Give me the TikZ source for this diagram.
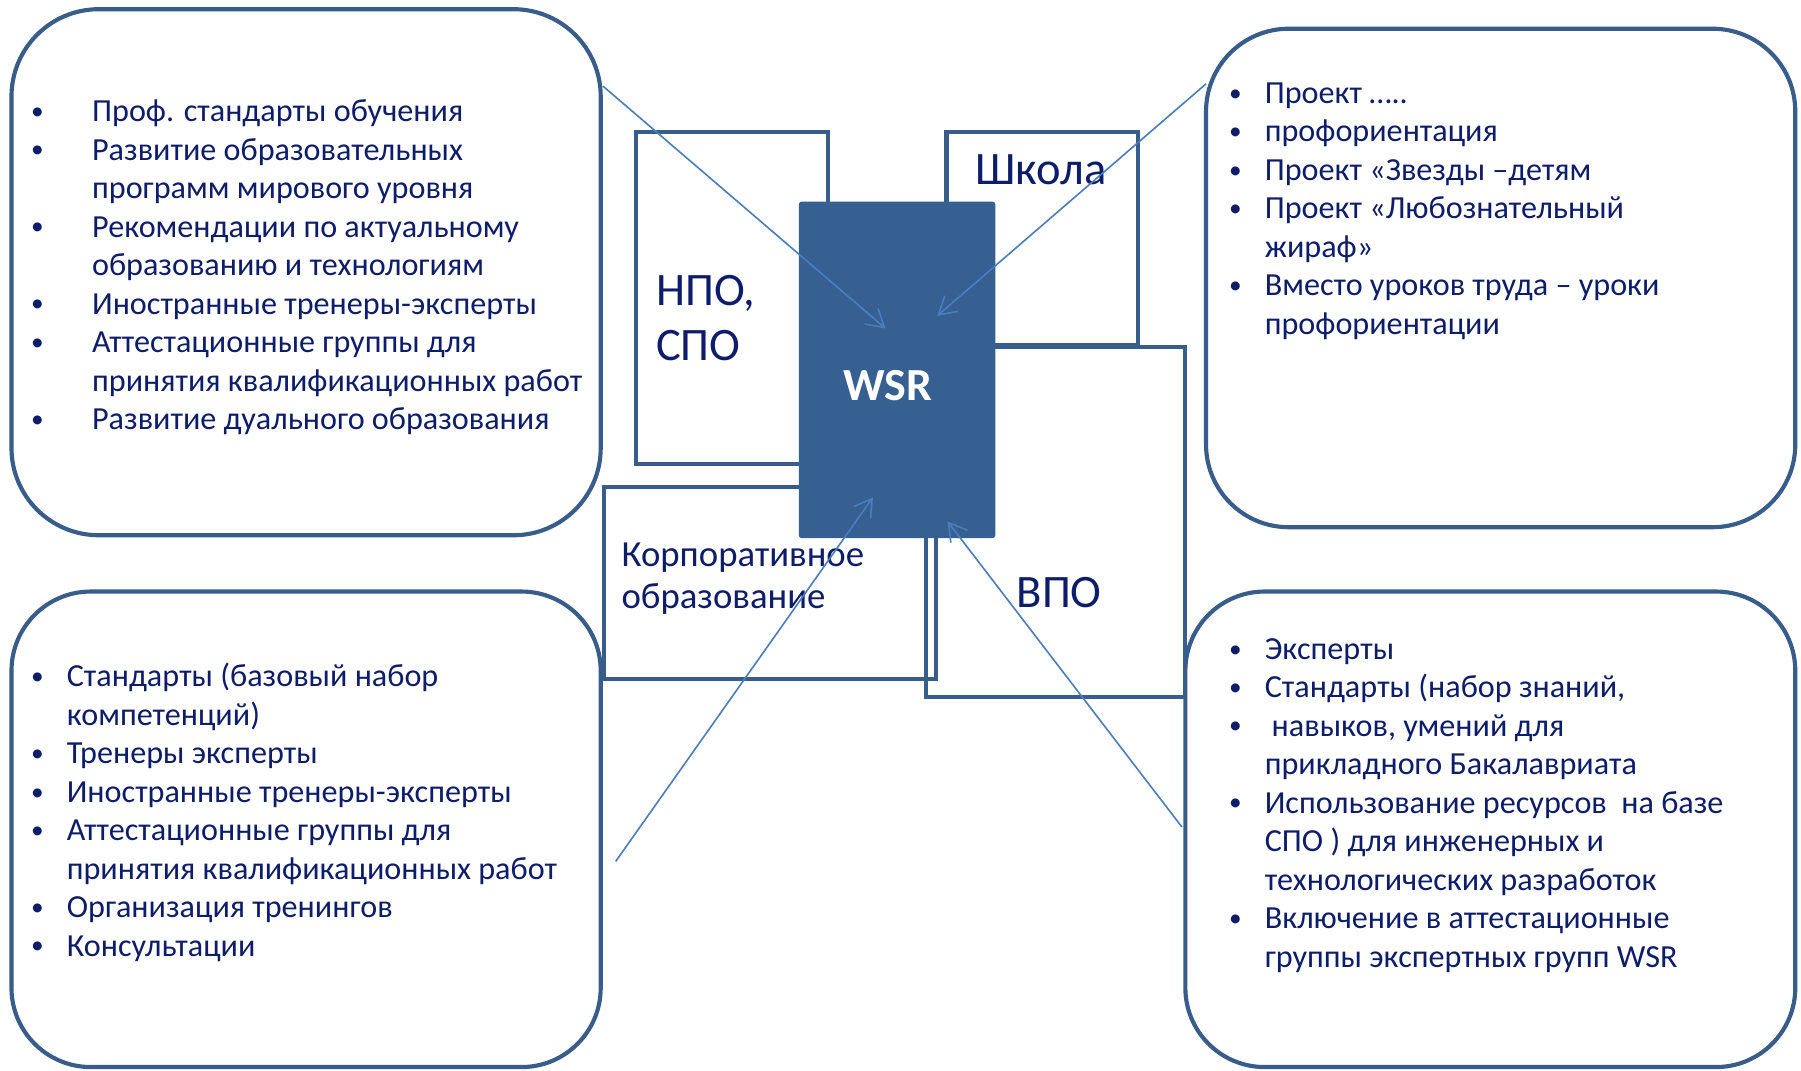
\documentclass[tikz,border=0pt]{standalone}
\usepackage{fontspec}
\setmainfont{Carlito}
\usetikzlibrary{arrows.meta}
\definecolor{outl}{HTML}{385D8A}
\definecolor{wsrfill}{HTML}{376092}
\definecolor{arr}{HTML}{4A7EBB}
\definecolor{txt}{HTML}{0E1D6A}
\newcommand\blist[5]{%
  \foreach \b/\t [count=\i from 0] in {#4} {%
    \ifnum\b=1 \node[bulmark] (#5b\i) at (#1, #3+\i*33.5-2) {•};\fi
    \node[itemtxt] (#5t\i) at (#2, #3+\i*33.5) {\t};
  }}
\begin{document}
\begin{tikzpicture}[x=1pt,y=-1pt,
  bigbox/.style={shape=rectangle, draw=outl, line width=3.6pt, rounded corners=#1, inner sep=0pt, outer sep=0pt},
  plainbox/.style={shape=rectangle, draw=outl, line width=3.6pt, inner sep=0pt, outer sep=0pt},
  wsrbox/.style={shape=rectangle, fill=wsrfill, draw=wsrfill, line width=1pt, rounded corners=2pt, inner sep=0pt, outer sep=0pt},
  bulmark/.style={anchor=base west, inner sep=0pt, text=txt, font=\fontsize{22}{26}\selectfont},
  itemtxt/.style={anchor=base west, inner sep=0pt, text=txt, font=\fontsize{28}{33.5}\selectfont},
  biglabel/.style={anchor=base west, inner sep=0pt, text=txt, font=\fontsize{40.5}{48}\selectfont},
  corplabel/.style={anchor=base west, inner sep=0pt, text=txt, font=\fontsize{32}{37}\selectfont},
  arrowline/.style={draw=arr, line width=1.4pt, -{Straight Barb[length=15pt,width=18pt,line width=1.4pt]}}
]
\useasboundingbox[fill=white] (0,0) rectangle (1568,932);

% big rounded boxes
\node[bigbox=76pt, minimum width=513pt, minimum height=458pt] (tl) at (266.5,237) {};
\node[bigbox=72pt, minimum width=513pt, minimum height=434pt] (tr) at (1306.5,242) {};
\node[bigbox=69pt, minimum width=513pt, minimum height=414pt] (bl) at (266.5,722) {};
\node[bigbox=69pt, minimum width=531pt, minimum height=414pt] (br) at (1297.5,722) {};

% central rectangles
\node[plainbox, minimum width=167pt, minimum height=289pt] (npo) at (637.5,259.5) {};
\node[plainbox, minimum width=167pt, minimum height=185pt] (shk) at (907.5,207.5) {};
\node[plainbox, minimum width=226pt, minimum height=305pt] (vpo) at (919,454.5) {};
\node[plainbox, minimum width=289pt, minimum height=167pt] (corp) at (670.5,507.5) {};
\node[wsrbox, minimum width=170pt, minimum height=292pt] (wsr) at (781,322) {};

% central labels
\node[biglabel] (npol1) at (571,266) {НПО,};
\node[biglabel] (npol2) at (571,314) {СПО};
\node[biglabel] (shkl) at (849,161) {Школа};
\node[biglabel] (vpol) at (885,529) {ВПО};
\node[corplabel] (corpl1) at (541,493) {Корпоративное};
\node[corplabel] (corpl2) at (541,530) {образование};
\node[inner sep=0pt, text=white, font=\bfseries\fontsize{40}{48}\selectfont] (wsrl) at (773,336) {WSR};

% lists
\blist{27}{80}{106}{1/{Проф. стандарты обучения}, 1/{Развитие образовательных}, 0/{программ мирового уровня}, 1/{Рекомендации по актуальному}, 0/{образованию и технологиям}, 1/{Иностранные тренеры-эксперты}, 1/{Аттестационные группы для}, 0/{принятия квалификационных работ}, 1/{Развитие дуального образования}}{tl}
\blist{1070}{1101}{90}{1/{Проект …..}, 1/{профориентация}, 1/{Проект «Звезды –детям}, 1/{Проект «Любознательный}, 0/{жираф»}, 1/{Вместо уроков труда – уроки}, 0/{профориентации}}{tr}
\blist{27}{58}{598}{1/{Стандарты (базовый набор}, 0/{компетенций)}, 1/{Тренеры эксперты}, 1/{Иностранные тренеры-эксперты}, 1/{Аттестационные группы для}, 0/{принятия квалификационных работ}, 1/{Организация тренингов}, 1/{Консультации}}{bl}
\blist{1070}{1101}{574}{1/{Эксперты}, 1/{Стандарты (набор знаний,}, 1/{\hspace*{6pt}навыков, умений для}, 0/{прикладного Бакалавриата}, 1/{Использование ресурсов~ на базе}, 0/{СПО ) для инженерных и}, 0/{технологических разработок}, 1/{Включение в аттестационные}, 0/{группы экспертных групп WSR}}{br}

% arrows
\coordinate (a1s) at (525,75);   \coordinate (a1e) at (771,286);
\coordinate (a2s) at (1050,73);  \coordinate (a2e) at (816,275);
\coordinate (a3s) at (536,750);  \coordinate (a3e) at (760,433);
\coordinate (a4s) at (1029,720); \coordinate (a4e) at (825,454);
\draw[arrowline] (a1s) -- (a1e);
\draw[arrowline] (a2s) -- (a2e);
\draw[arrowline] (a3s) -- (a3e);
\draw[arrowline] (a4s) -- (a4e);
\end{tikzpicture}
\end{document}
